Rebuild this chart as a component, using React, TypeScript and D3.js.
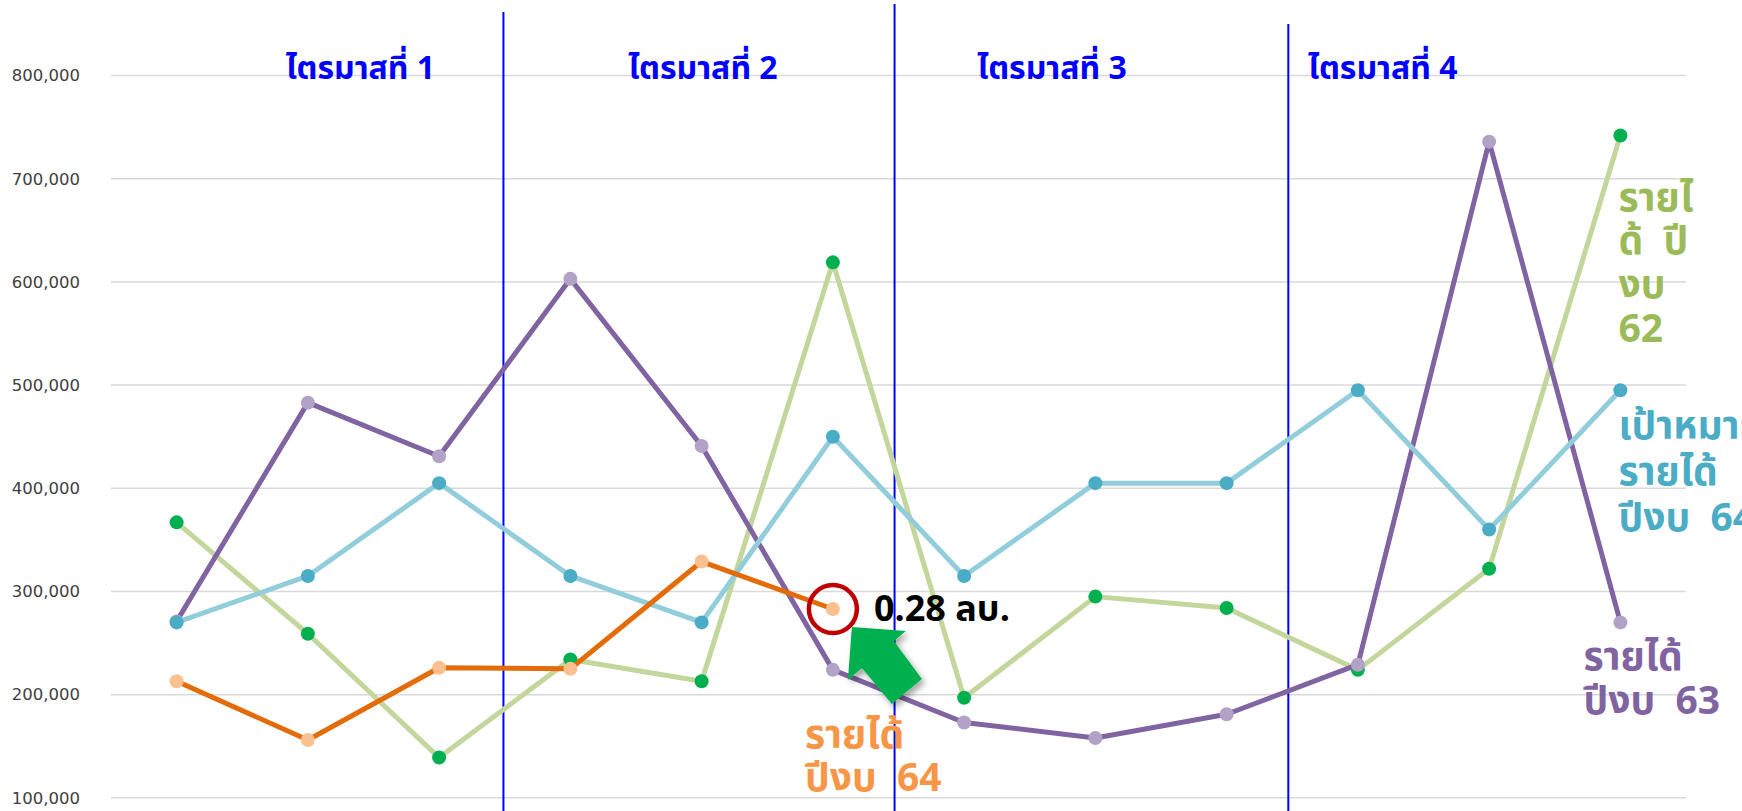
import * as d3 from "d3"

// fiscal-year months (Oct..Sep), not drawn on the axis
const months = ["ต.ค.", "พ.ย.", "ธ.ค.", "ม.ค.", "ก.พ.", "มี.ค.", "เม.ย.", "พ.ค.", "มิ.ย.", "ก.ค.", "ส.ค.", "ก.ย."]

const rev62 = [367000, 259000, 139000, 234000, 213000, 619000, 197000, 295000, 284000, 224000, 322000, 742000]
const rev63 = [271000, 483000, 431000, 603000, 441000, 224000, 173000, 158000, 181000, 229000, 736000, 270000]
const target64 = [270000, 315000, 405000, 315000, 270000, 450000, 315000, 405000, 405000, 495000, 360000, 495000]
const rev64 = [213000, 156000, 226000, 225000, 329000, 283000]

const yTicks = [100000, 200000, 300000, 400000, 500000, 600000, 700000, 800000]
const quarters = ["ไตรมาสที่ 1", "ไตรมาสที่ 2", "ไตรมาสที่ 3", "ไตรมาสที่ 4"]

const W = 1742
const H = 811
const thai = "Tahoma, 'Noto Sans Thai', 'Noto Sans', sans-serif"
const gap = "\u00A0\u00A0"

// label anchors in index units (hand placed in the original)
const quarterAt = [1.4, 4.01, 6.67, 9.19]
const dividerAt = [2.49, 5.47, 8.47]
const dividerTop = [12, 4, 24]

export default function App() {
  const x = d3.scalePoint<string>().domain(months).range([111, 1686]).padding(0.5)
  const xi = d3.scaleLinear().domain([0, 11]).range([x(months[0])!, x(months[11])!])
  const y = d3.scaleLinear().domain([100000, 800000]).range([797.8, 75.6])
  const fmt = d3.format(",")

  const line = d3
    .line<number>()
    .x((_, i) => xi(i))
    .y((d) => y(d))

  const series = [
    { values: rev62, stroke: "#C3D69B", dot: "#00B050" },
    { values: rev63, stroke: "#8064A2", dot: "#B3A2C7" },
    { values: target64, stroke: "#92CDDC", dot: "#4BACC6" },
    { values: rev64, stroke: "#E36C09", dot: "#FAC090" },
  ]

  const last = rev64.length - 1
  const cx = xi(last)
  const cy = y(rev64[last])

  // block arrow pointing up-left at the highlighted point
  const ax = cx + 19
  const ay = cy + 18
  const arrow = [
    [0, 0],
    [54, 4],
    [42, 14],
    [70, 52],
    [40, 77],
    [10, 41],
    [-4, 53],
  ]
    .map(([dx, dy]) => `${ax + dx},${ay + dy}`)
    .join(" ")

  const lx = xi(11) - 2

  return (
    <svg width={W} height={H} style={{ position: "absolute", left: 0, top: 0, background: "#fff" }}>
      <defs>
        <filter id="shadow" x="-30%" y="-30%" width="160%" height="160%">
          <feDropShadow dx="3" dy="4" stdDeviation="3" floodColor="#000" floodOpacity="0.35" />
        </filter>
      </defs>

      {/* gridlines + y labels */}
      {yTicks.map((t) => (
        <g key={t}>
          <line x1={111} x2={1686} y1={y(t)} y2={y(t)} stroke="#D9D9D9" strokeWidth={1.5} />
          <text
            x={80}
            y={y(t)}
            dy="0.35em"
            textAnchor="end"
            fontFamily="'DejaVu Sans', Verdana, sans-serif"
            fontSize={16.5}
            fill="#404040"
          >
            {fmt(t)}
          </text>
        </g>
      ))}

      {/* quarter dividers */}
      {dividerAt.map((d, i) => (
        <line key={i} x1={xi(d)} x2={xi(d)} y1={dividerTop[i]} y2={H} stroke="#0000FF" strokeWidth={2} />
      ))}
      {quarters.map((q, i) => (
        <text
          key={q}
          x={xi(quarterAt[i])}
          y={79}
          textAnchor="middle"
          fontFamily={thai}
          fontWeight="bold"
          fontSize={32}
          fill="#0000FF"
        >
          {q}
        </text>
      ))}

      {/* series */}
      {series.map((s, k) => (
        <g key={k}>
          <path d={line(s.values)!} fill="none" stroke={s.stroke} strokeWidth={5} strokeLinejoin="round" />
          {s.values.map((v, i) => (
            <circle key={i} cx={xi(i)} cy={y(v)} r={7} fill={s.dot} />
          ))}
        </g>
      ))}

      {/* highlight */}
      <circle cx={cx} cy={cy} r={24} fill="none" stroke="#C00000" strokeWidth={4.5} />
      <polygon points={arrow} fill="#00B050" filter="url(#shadow)" />
      <text x={cx + 41} y={cy + 12} fontFamily={thai} fontWeight="bold" fontSize={36} fill="#000">
        0.28 ลบ.
      </text>

      {/* series labels */}
      <g fontFamily={thai} fontWeight="bold" fontSize={39}>
        <text x={lx} fill="#9BBB59">
          <tspan y={211}>รายไ</tspan>
          <tspan x={lx} y={254}>{"ด้\u00A0\u00A0ปี"}</tspan>
          <tspan x={lx} y={298}>งบ</tspan>
          <tspan x={lx} y={342}>62</tspan>
        </text>
        <text x={lx} fill="#4BACC6">
          <tspan y={439}>เป้าหมาย</tspan>
          <tspan x={lx} y={485}>รายได้</tspan>
          <tspan x={lx} y={531}>{"ปีงบ" + gap + "64"}</tspan>
        </text>
        <text x={xi(11) - 37} fill="#8064A2">
          <tspan y={670}>รายได้</tspan>
          <tspan x={xi(11) - 37} y={714}>{"ปีงบ" + gap + "63"}</tspan>
        </text>
        <text x={xi(last) - 28} fill="#F79646">
          <tspan y={748}>รายได้</tspan>
          <tspan x={xi(last) - 28} y={791}>{"ปีงบ" + gap + "64"}</tspan>
        </text>
      </g>
    </svg>
  )
}
